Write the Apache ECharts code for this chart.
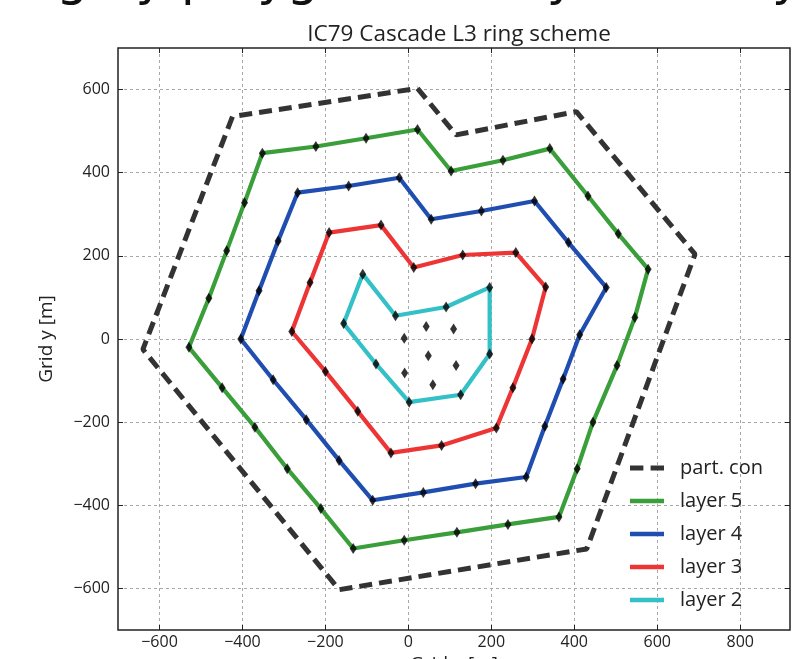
<!DOCTYPE html>
<html>
<head>
<meta charset="utf-8">
<script src="https://cdn.jsdelivr.net/npm/echarts@6/dist/echarts.min.js"></script>
<style>
html,body{margin:0;padding:0;background:#fff;}
#chart{width:794px;height:659px;}
</style>
</head>
<body>
<div id="chart"></div>
<script>
// ---- data (Grid x, Grid y in metres) ----
const titleText = 'IC79 Cascade L3 ring scheme';
const headerFragment = 'ring by polygons set by an array';
const xTicks = [-600, -400, -200, 0, 200, 400, 600, 800];
const yTicks = [-600, -400, -200, 0, 200, 400, 600];
const seriesNames = ['part. con', 'layer 5', 'layer 4', 'layer 3', 'layer 2'];

const partCon = [[22,603],[115,491],[405,547],[691,204],[430,-505],[-167,-603],[-640,-25],[-424,535]];
const layer5 = [[22,504],[103,404],[228,430],[341,458],[433,344],[506,253],[578,168],[546,52],[503,-64],[445,-200],[407,-312],[363,-428],[240,-446],[117,-465],[-10,-484],[-133,-504],[-211,-408],[-292,-312],[-370,-212],[-449,-117],[-529,-20],[-481,98],[-438,212],[-395,328],[-352,447],[-223,463],[-102,483]];
const layer4 = [[-22,388],[55,288],[176,308],[304,332],[386,232],[477,124],[413,10],[373,-96],[329,-210],[284,-332],[162,-348],[36,-369],[-86,-388],[-167,-292],[-246,-194],[-326,-98],[-404,0],[-360,116],[-314,236],[-267,352],[-144,368]];
const layer3 = [[-66,274],[13,172],[131,202],[259,208],[331,125],[298,0],[252,-117],[212,-214],[80,-256],[-42,-274],[-122,-174],[-200,-78],[-281,18],[-237,136],[-191,256]];
const layer2 = [[-110,156],[-31,56],[91,77],[196,124],[196,-36],[126,-134],[2,-152],[-78,-60],[-156,37]];
const innerStrings = [[43,30],[109,24],[-10,2],[48,-40],[115,-64],[-9,-82],[59,-110]];

// ---- chart ----
const FONT = 'Open Sans';
const closeRing = a => a.concat([a[0]]);
const minus = v => String(v).replace('-', '\u2212');

const layers = [partCon, layer5, layer4, layer3, layer2];
const colors = ['#333333', '#3a9e3a', '#1f4eb0', '#ee3535', '#33c0c6'];
const dashIcon = 'path://M0,0h13v5h-13z M20,0h13v5h-13z';
const solidIcon = 'path://M0,0h34v4.5h-34z';

const lineSeries = layers.map((pts, i) => ({
  name: seriesNames[i],
  type: 'line',
  data: closeRing(pts),
  symbol: 'none',
  z: 2 + i,
  lineStyle: {
    color: colors[i],
    width: i === 0 ? 5 : 4.2,
    type: i === 0 ? [13, 7] : 'solid'
  },
  itemStyle: { color: colors[i] },
  animation: false
}));

const stringPts = [].concat(layer5, layer4, layer3, layer2, innerStrings);

const axisCommon = {
  type: 'value',
  axisLine: { show: false, onZero: false },
  axisTick: { show: true, inside: true, length: 5, lineStyle: { color: '#222', width: 1 } },
  splitLine: { show: false }
};

const chart = echarts.init(document.getElementById('chart'), null, { renderer: 'canvas' });
chart.setOption({
  animation: false,
  backgroundColor: '#fff',
  title: {
    text: titleText,
    left: 454,
    top: 18,
    textAlign: 'center',
    textStyle: { fontFamily: FONT, fontSize: 22.5, fontWeight: 'normal', color: '#222' }
  },
  graphic: [{
    type: 'text',
    x: -10,
    y: 7,
    style: { text: headerFragment, font: '50px "DejaVu Sans"', fill: '#111', verticalAlign: 'bottom', align: 'left' },
    silent: true
  }],
  grid: {
    left: 118, right: 4, top: 48, bottom: 29,
    outerBoundsMode: 'none',
    containLabel: false,
    show: true, borderColor: '#222', borderWidth: 1.5, backgroundColor: 'transparent'
  },
  legend: {
    orient: 'vertical',
    left: 625,
    top: 453,
    itemWidth: 34,
    itemHeight: 14,
    itemGap: 13,
    data: seriesNames.map((n, i) => ({ name: n, icon: i === 0 ? dashIcon : solidIcon })),
    textStyle: { fontFamily: FONT, fontSize: 20, color: '#222', padding: [0, 0, 0, 11] }
  },
  xAxis: [
    Object.assign({}, axisCommon, {
      min: -700, max: 920, position: 'bottom',
      name: 'Grid x [m]', nameLocation: 'middle', nameGap: 21,
      nameTextStyle: { fontFamily: FONT, fontSize: 19, color: '#222' },
      axisTick: Object.assign({}, axisCommon.axisTick, { customValues: xTicks }),
      axisLabel: { customValues: xTicks, formatter: minus, fontFamily: FONT, fontSize: 16, color: '#222', margin: 4 },
      splitLine: { show: true, lineStyle: { color: '#a8a8a8', type: [3, 3], width: 1 } }
    }),
    Object.assign({}, axisCommon, {
      min: -700, max: 920, position: 'top',
      axisTick: Object.assign({}, axisCommon.axisTick, { customValues: xTicks }),
      axisLabel: { show: false }
    })
  ],
  yAxis: [
    Object.assign({}, axisCommon, {
      min: -700, max: 700, position: 'left',
      name: 'Grid y [m]', nameLocation: 'middle', nameGap: 62, nameRotate: 90,
      nameTextStyle: { fontFamily: FONT, fontSize: 19, color: '#222' },
      axisTick: Object.assign({}, axisCommon.axisTick, { customValues: yTicks }),
      axisLabel: { customValues: yTicks, formatter: minus, fontFamily: FONT, fontSize: 16, color: '#222', margin: 8 },
      splitLine: { show: true, lineStyle: { color: '#a8a8a8', type: [3, 3], width: 1 } }
    }),
    Object.assign({}, axisCommon, {
      min: -700, max: 700, position: 'right',
      axisTick: Object.assign({}, axisCommon.axisTick, { customValues: yTicks }),
      axisLabel: { show: false }
    })
  ],
  series: lineSeries.concat([{
    name: 'strings',
    type: 'scatter',
    data: stringPts,
    symbol: 'diamond',
    symbolSize: [7, 11],
    itemStyle: { color: '#000' },
    z: 10,
    animation: false
  }])
});
</script>
</body>
</html>
